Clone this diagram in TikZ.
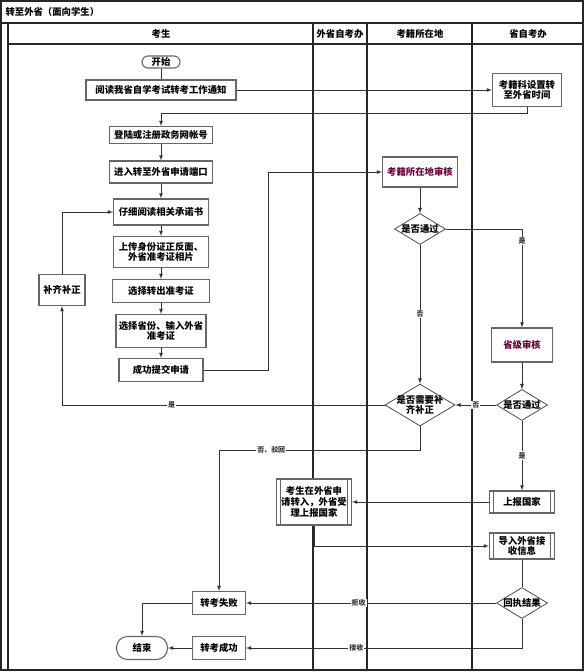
\documentclass[tikz,border=0pt]{standalone}
\usepackage{fontspec}
\setmainfont{Noto Sans CJK SC}
\usetikzlibrary{shapes.geometric}
\definecolor{shenhecol}{RGB}{110,0,60}
\tikzset{
  box/.style={draw=black!60, line width=1.1pt, fill=white, align=center, inner sep=0pt,
    font=\fontsize{9.4}{10.8}\selectfont\bfseries},
  endbox/.style={box, rounded corners=6bp},
  subbox/.style={box, path picture={
      \draw[black!60, line width=.8pt] ([xshift=4bp]path picture bounding box.north west) -- ([xshift=4bp]path picture bounding box.south west);
      \draw[black!60, line width=.8pt] ([xshift=-4bp]path picture bounding box.north east) -- ([xshift=-4bp]path picture bounding box.south east);}},
  ask/.style={diamond, draw=black!70, line width=.8pt, fill=white, aspect=1.65, inner sep=-2bp, align=center,
    font=\fontsize{9.4}{10.8}\selectfont\bfseries},
  lbl/.style={fill=white, inner sep=1bp, font=\fontsize{7}{7.5}\selectfont\bfseries},
  head/.style={font=\fontsize{9.4}{10}\selectfont\bfseries},
  lane/.style={line width=1.2pt, black!85},
  flow/.style={line width=.8pt, black!80}
}
\begin{document}
\begin{tikzpicture}[>=latex, x=1bp, y=-1bp]
    \useasboundingbox (0,0) rectangle (585,672);
    % swimlanes
    \draw[lane] (1,1) rectangle (583,670);
    \draw[lane] (1,23) -- (583,23) (8,23) -- (8,670) (8,44) -- (583,44);
    \foreach \x in {313,367,472} \draw[lane] (\x,23) -- (\x,670);
    \node[head, anchor=west] (title) at (2,12) {转至外省（面向学生）};
    \node[head] (kaosheng) at (161,34) {考生};
    \node[head] (waishengban) at (340,34) {外省自考办};
    \node[head] (kaoji) at (420,34) {考籍所在地};
    \node[head] (shengban) at (528,34) {省自考办};
    % steps
    \node[endbox, minimum width=38bp, minimum height=12bp] (kaishi) at (161,62) {开始};
    \node[box, minimum width=150bp, minimum height=20bp] (yuedu) at (161,90) {阅读我省自学考试转考工作通知};
    \node[box, minimum width=69bp, minimum height=33bp] (shezhi) at (527,90) {考籍科设置转\\至外省时间};
    \node[box, minimum width=103bp, minimum height=17bp] (denglu) at (161,135) {登陆或注册政务网帐号};
    \node[box, minimum width=103bp, minimum height=22bp] (jinru) at (161,172) {进入转至外省申请端口};
    \node[box, minimum width=95bp, minimum height=26bp] (zixi) at (161,212) {仔细阅读相关承诺书};
    \node[box, minimum width=95bp, minimum height=31bp] (shangchuan) at (161,252) {上传身份证正反面、\\外省准考证相片};
    \node[box, minimum width=97bp, minimum height=23bp] (xuanze) at (161,291) {选择转出准考证};
    \node[box, minimum width=90bp, minimum height=33bp] (shuru) at (161,331) {选择省份、输入外省\\准考证};
    \node[box, minimum width=84bp, minimum height=23bp] (tijiao) at (161,370) {成功提交申请};
    \node[box, minimum width=46bp, minimum height=31bp] (buzheng) at (62,290) {补齐补正};
    \node[box, text=shenhecol, minimum width=75bp, minimum height=30bp] (shenhe) at (420,172) {考籍所在地审核};
    \node[ask, minimum width=51bp, minimum height=31bp] (pass1) at (420,229) {是否通过};
    \node[box, text=shenhecol, minimum width=61bp, minimum height=34bp] (shengji) at (522,345) {省级审核};
    \node[ask, minimum width=51bp, minimum height=31bp] (pass2) at (522,405) {是否通过};
    \node[ask, minimum width=70bp, minimum height=42bp] (buqi) at (420,405) {是否需要补\\齐补正};
    \node[subbox, minimum width=65bp, minimum height=22bp] (shangbao) at (522,502) {上报国家};
    \node[subbox, minimum width=75bp, minimum height=46bp] (waisheng) at (314,502) {考生在外省申\\请转入，外省受\\理上报国家};
    \node[subbox, minimum width=65bp, minimum height=26bp] (daoru) at (522,546) {导入外省接\\收信息};
    \node[ask, minimum width=51bp, minimum height=31bp] (huizhi) at (522,603) {回执结果};
    \node[box, minimum width=53bp, minimum height=23bp] (shibai) at (219,603) {转考失败};
    \node[box, minimum width=53bp, minimum height=23bp] (chenggong) at (219,648) {转考成功};
    \node[endbox, rounded corners=11bp, minimum width=51bp, minimum height=23bp] (jieshu) at (142,648) {结束};
    \coordinate (c1) at (161,113);
    \coordinate (c2) at (268,172);
    \coordinate (c3) at (219,450);
    % connectors
    \draw[flow] (kaishi) -- (yuedu);
    \draw[flow,->] (yuedu) -- (shezhi);
    \draw[flow,->] (shezhi) |- (c1) -- (denglu);
    \draw[flow,->] (denglu) -- (jinru);
    \draw[flow,->] (jinru) -- (zixi);
    \draw[flow,->] (zixi) -- (shangchuan);
    \draw[flow,->] (shangchuan) -- (xuanze);
    \draw[flow,->] (xuanze) -- (shuru);
    \draw[flow,->] (shuru) -- (tijiao);
    \draw[flow,->] (tijiao) -| (c2) -- (shenhe);
    \draw[flow,->] (shenhe) -- (pass1);
    \draw[flow,->] (pass1) -| node[lbl, pos=.56]{是} (shengji);
    \draw[flow,->] (pass1) -- node[lbl]{否} (buqi);
    \draw[flow,->] (shengji) -- (pass2);
    \draw[flow,->] (pass2) -- node[lbl]{否} (buqi);
    \draw[flow,->] (pass2) -- node[lbl]{是} (shangbao);
    \draw[flow,->] (buqi) -| node[lbl, pos=.33]{是} (buzheng);
    \draw[flow,->] (buzheng) |- (zixi);
    \draw[flow,->] (buqi) |- node[lbl, pos=.87]{否、驳回} (c3) -- (shibai);
    \draw[flow,->] (shangbao) -- (waisheng);
    \draw[flow,->] (waisheng) |- (daoru);
    \draw[flow] (daoru) -- (huizhi);
    \draw[flow,->] (huizhi) -- node[lbl, pos=.55]{拒收} (shibai);
    \draw[flow,->] (huizhi) |- node[lbl, pos=.8]{接收} (chenggong);
    \draw[flow,->] (shibai) -| (jieshu);
    \draw[flow,->] (chenggong) -- (jieshu);
\end{tikzpicture}
\end{document}
